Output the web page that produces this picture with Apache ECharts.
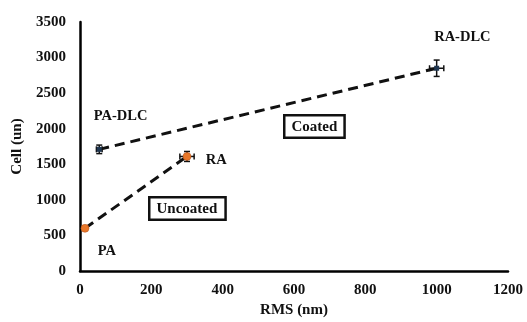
<!DOCTYPE html>
<html><head><meta charset="utf-8">
<script src="https://cdn.jsdelivr.net/npm/echarts@6/dist/echarts.min.js"></script>
<style>html,body{margin:0;padding:0;background:#fff}#c{width:527px;height:322px}</style>
</head><body><div id="c"></div>
<script>
const xTicks = [0, 200, 400, 600, 800, 1000, 1200];
const yTicks = [0, 500, 1000, 1500, 2000, 2500, 3000, 3500];
const uncoatedNames = ['PA', 'RA'];
const uncoatedX = [14, 300];
const uncoatedY = [600, 1610];
const uncoatedXErr = [0, 20];
const uncoatedYErr = [0, 70];
const coatedNames = ['PA-DLC', 'RA-DLC'];
const coatedX = [54, 1000];
const coatedY = [1710, 2850];
const coatedXErr = [8, 20];
const coatedYErr = [60, 115];

const font = 'Liberation Serif';
const chart = echarts.init(document.getElementById('c'));
function pts(xs, ys) { return xs.map((x, i) => [x, ys[i]]); }
function errs(xs, ys, xe, ye) { return xs.map((x, i) => [x, ys[i], xe[i], ye[i]]); }

function errRender(params, api) {
  const x = api.value(0), y = api.value(1), xe = api.value(2), ye = api.value(3);
  const ch = [];
  const st = { stroke: '#111', lineWidth: 1.5 };
  if (ye > 0) {
    const t = api.coord([x, y + ye]), b = api.coord([x, y - ye]);
    ch.push({ type: 'line', shape: { x1: t[0], y1: t[1], x2: b[0], y2: b[1] }, style: st });
    ch.push({ type: 'line', shape: { x1: t[0] - 3, y1: t[1], x2: t[0] + 3, y2: t[1] }, style: st });
    ch.push({ type: 'line', shape: { x1: b[0] - 3, y1: b[1], x2: b[0] + 3, y2: b[1] }, style: st });
  }
  if (xe > 0) {
    const l = api.coord([x - xe, y]), r = api.coord([x + xe, y]);
    ch.push({ type: 'line', shape: { x1: l[0], y1: l[1], x2: r[0], y2: r[1] }, style: st });
    ch.push({ type: 'line', shape: { x1: l[0], y1: l[1] - 3, x2: l[0], y2: l[1] + 3 }, style: st });
    ch.push({ type: 'line', shape: { x1: r[0], y1: r[1] - 3, x2: r[0], y2: r[1] + 3 }, style: st });
  }
  return { type: 'group', children: ch };
}

const lbl = { fontFamily: font, fontWeight: 'bold', fontSize: 14.5, color: '#111' };
const tickFmt = v => String(v);

chart.setOption({
  animation: false,
  backgroundColor: '#fff',
  grid: { left: 80, right: 19, top: 22, bottom: 51, outerBoundsMode: 'none', containLabel: false },
  xAxis: {
    type: 'value', min: 0, max: 1200, interval: 200,
    name: 'RMS (nm)', nameLocation: 'middle', nameGap: 32,
    nameTextStyle: { fontFamily: font, fontWeight: 'bold', fontSize: 15, color: '#111' },
    axisLine: { show: true, lineStyle: { color: '#000', width: 2.5 } },
    axisTick: { show: false },
    splitLine: { show: false },
    axisLabel: { fontFamily: font, fontWeight: 'bold', fontSize: 15, color: '#111', margin: 12, formatter: tickFmt }
  },
  yAxis: {
    type: 'value', min: 0, max: 3500, interval: 500,
    name: 'Cell (un)', nameLocation: 'middle', nameGap: 54,
    nameTextStyle: { fontFamily: font, fontWeight: 'bold', fontSize: 15, color: '#111' },
    axisLine: { show: true, lineStyle: { color: '#000', width: 2.5 } },
    axisTick: { show: false },
    splitLine: { show: false },
    axisLabel: { fontFamily: font, fontWeight: 'bold', fontSize: 15, color: '#111', margin: 14, formatter: tickFmt }
  },
  series: [
    { type: 'line', data: pts(uncoatedX, uncoatedY), symbol: 'none',
      lineStyle: { color: '#111', width: 3, type: [10, 6] }, z: 2 },
    { type: 'line', data: pts(coatedX, coatedY), symbol: 'none',
      lineStyle: { color: '#111', width: 3, type: [10, 6] }, z: 2 },
    { type: 'custom', renderItem: errRender, data: errs(uncoatedX, uncoatedY, uncoatedXErr, uncoatedYErr), z: 3 },
    { type: 'custom', renderItem: errRender, data: errs(coatedX, coatedY, coatedXErr, coatedYErr), z: 3 },
    { type: 'scatter', symbol: 'circle', symbolSize: 8, z: 4,
      itemStyle: { color: '#E8772A', borderColor: '#B0501A', borderWidth: 0.5, opacity: 1 },
      data: pts(uncoatedX, uncoatedY).map((p, i) => ({ value: p, name: uncoatedNames[i],
        label: { show: true, formatter: '{b}', ...lbl,
          position: i === 0 ? [17, 20] : [23, 1] } })) },
    { type: 'scatter', symbol: 'rect', symbolSize: 5, z: 4,
      itemStyle: { color: '#1E3550', opacity: 1 },
      data: pts(coatedX, coatedY).map((p, i) => ({ value: p, name: coatedNames[i],
        label: { show: true, formatter: '{b}', ...lbl,
          position: i === 0 ? [-3, -38] : [0, -36] } })) }
  ],
  graphic: [
    { type: 'text', left: 148, top: 196, z: 10,
      style: { text: 'Uncoated', fontFamily: font, fontWeight: 'bold', fontSize: 15, fill: '#111',
        borderColor: '#111', borderWidth: 2.5, padding: [3, 7, 2, 6], backgroundColor: '#fff' } },
    { type: 'text', left: 283, top: 114, z: 10,
      style: { text: 'Coated', fontFamily: font, fontWeight: 'bold', fontSize: 15, fill: '#111',
        borderColor: '#111', borderWidth: 2.5, padding: [3, 6, 2, 6], backgroundColor: '#fff' } }
  ]
});
</script></body></html>
